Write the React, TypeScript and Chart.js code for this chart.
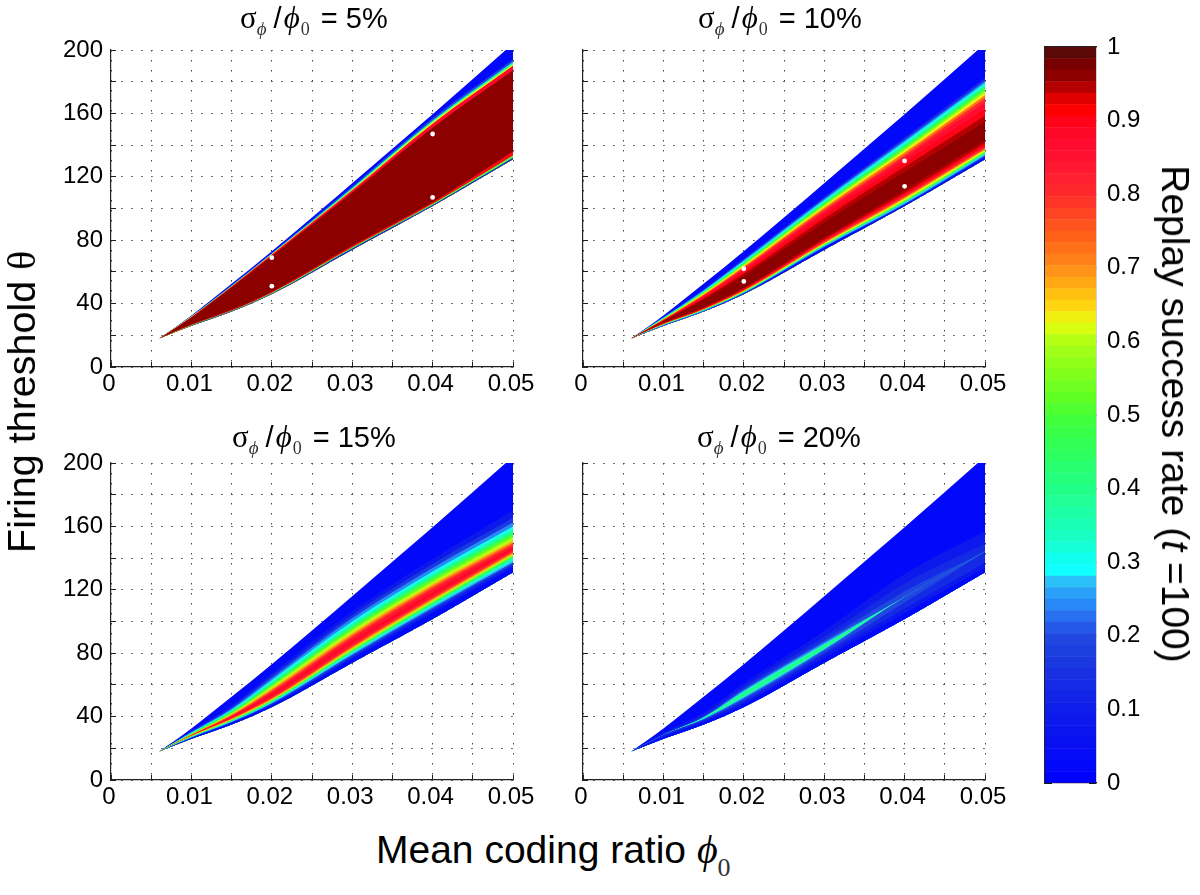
import React, { useEffect, useRef } from "react";
import { Chart, registerables } from "chart.js";

Chart.register(...registerables);

// ---- data ----
const phiNodes = [0.006, 0.01, 0.015, 0.02, 0.03, 0.04, 0.05];
const xTickLabels = ["0", "0.01", "0.02", "0.03", "0.04", "0.05"];
const yTickLabels = ["0", "40", "80", "120", "160", "200"];
const cbarTickLabels = ["0", "0.1", "0.2", "0.3", "0.4", "0.5", "0.6", "0.7", "0.8", "0.9", "1"];

// Colour bar, bottom to top (64 steps)
const palette = [
  "#0000ff", "#0208fa", "#060cf6", "#0810f2", "#0a14ee", "#0c18ec", "#0e1eea", "#1224e6",
  "#142ae4", "#1830e2", "#1a38e0", "#1c40e0", "#2048e0", "#2458e8", "#2870f0", "#2888f8",
  "#2aa0f8", "#2cc0f8", "#10ffff", "#10ffee", "#14ffd8", "#18ffc4", "#18ffb4", "#1cffa4",
  "#20ff98", "#20ff88", "#24ff7c", "#28ff70", "#2cff60", "#30ff54", "#38ff48", "#40ff3c",
  "#50ff30", "#60ff24", "#70ff20", "#80ff1c", "#90ff18", "#a0ff18", "#b4ff14", "#d8ff10",
  "#f0f010", "#ffd410", "#ffc010", "#ffa814", "#ff9418", "#ff8018", "#ff7018", "#ff6018",
  "#ff5420", "#ff4424", "#ff3428", "#ff282c", "#ff2030", "#ff1830", "#ff1030", "#ff0c30",
  "#ff0828", "#ff0418", "#ff0000", "#e00000", "#b40000", "#8c0000", "#780000", "#5a0808",
];

// Each row is one contour of theta at phiNodes, from the lower edge of the wedge to its upper edge.
const edges5 = [
  [18, 26, 35, 46, 74, 101.5, 131],
  [18, 26.2, 35.3, 46.4, 74.8, 102.2, 132],
  [18, 26.5, 35.7, 46.9, 75.5, 103, 133.5],
  [18, 26.8, 36.1, 47.5, 76.5, 104, 136],
  [18, 31.3, 50.3, 70, 110, 151, 187],
  [18, 31.6, 50.8, 71, 111.5, 153.5, 190],
  [18, 31.8, 51, 71.3, 112, 154.5, 191],
  [18, 32, 51.3, 71.6, 113, 155.5, 192.5],
  [18, 32.2, 51.7, 72, 114, 157, 194],
  [18, 32.5, 52.5, 73, 116, 159.5, 204],
];
const levels5 = [0.1, 0.5, 0.9, 0.96, 0.88, 0.62, 0.35, 0.2, 0.02];

const edges10 = [
  [18, 26, 35, 46, 74, 101.5, 131],
  [18, 26.15, 35.2, 46.3, 75.3, 102.2, 132.3],
  [18, 26.3, 35.4, 46.7, 75.9, 102.9, 133.4],
  [18, 26.5, 35.7, 47, 76.5, 103.8, 134.4],
  [18, 26.6, 35.9, 47.3, 77, 104.4, 135.2],
  [18, 26.8, 36.1, 47.6, 77.3, 105, 136],
  [18, 26.9, 36.3, 47.9, 78, 106.3, 137],
  [18, 27.1, 36.5, 48.2, 78.7, 107.3, 138],
  [18, 27.3, 36.8, 48.7, 79.6, 108.4, 139.3],
  [18, 27.6, 37.2, 49.3, 80.5, 109.8, 141],
  [18, 27.9, 37.6, 50, 81.5, 111.5, 143],
  [18, 29, 42.3, 57.5, 91, 123, 154.5],
  [18, 29.2, 43.2, 59, 93.7, 126.3, 158.5],
  [18, 29.4, 44, 60.5, 96, 129.2, 163],
  [18, 29.6, 44.8, 61.8, 98, 132, 167],
  [18, 29.8, 45.3, 62.6, 99.2, 133.6, 169.5],
  [18, 30, 45.8, 63.4, 100.5, 135.3, 171.5],
  [18, 30.2, 46.3, 64.2, 101.6, 136.8, 173.3],
  [18, 30.4, 46.8, 64.9, 102.5, 138, 174.8],
  [18, 30.6, 47.2, 65.5, 103.4, 139.3, 176.3],
  [18, 30.8, 47.6, 66.1, 104.3, 140.6, 177.7],
  [18, 31, 48, 66.8, 105.2, 141.9, 179.2],
  [18, 31.2, 48.5, 67.5, 106.2, 143.1, 180.5],
  [18, 31.6, 49, 68.4, 107.3, 144.6, 182.3],
  [18, 32.5, 52.5, 73, 116, 159.5, 204],
];
const levels10 = [
  0.03, 0.15, 0.27, 0.38, 0.5, 0.62, 0.72, 0.82, 0.9, 0.94, 0.96, 0.94,
  0.9, 0.86, 0.8, 0.72, 0.64, 0.56, 0.47, 0.38, 0.3, 0.24, 0.15, 0.03,
];

const edges15 = [
  [18, 26, 35, 46, 74, 101.5, 131],
  [18, 26.4, 35.9, 47.1, 76.5, 105.5, 134],
  [18, 26.6, 36.3, 47.8, 77.8, 107.3, 135.8],
  [18, 26.8, 36.6, 48.4, 79, 108.6, 137.2],
  [18, 27, 37, 48.9, 80, 109.8, 138.5],
  [18, 27.2, 37.3, 49.4, 80.8, 110.8, 139.7],
  [18, 27.4, 37.6, 49.9, 81.5, 111.7, 140.8],
  [18, 27.6, 37.9, 50.3, 82.1, 112.4, 141.6],
  [18, 27.8, 38.2, 50.7, 82.8, 113.2, 142.4],
  [18, 27.9, 38.5, 51.2, 83.6, 114, 143.2],
  [18, 28, 38.8, 51.8, 84.6, 115, 144.1],
  [18, 28.1, 39.3, 53, 86.2, 116.6, 145.3],
  [18, 28.2, 39.9, 54.5, 88, 118.5, 146.5],
  [18, 28.3, 40.5, 55.7, 90, 120.8, 148.3],
  [18, 28.5, 41, 56.8, 91.5, 122.2, 149.7],
  [18, 28.7, 41.5, 57.8, 92.8, 123.5, 151],
  [18, 28.9, 42, 59, 94.5, 125.3, 153],
  [18, 29.1, 42.6, 59.9, 95.8, 126.8, 154.7],
  [18, 29.3, 43.1, 60.8, 97, 128.2, 156.3],
  [18, 29.6, 43.8, 61.9, 98.4, 129.8, 158],
  [18, 29.9, 44.4, 63, 100, 131.6, 160],
  [18, 30.2, 45, 64.2, 102, 133.8, 162.5],
  [18, 30.6, 45.9, 65.7, 104, 136.3, 165.5],
  [18, 31, 47, 67.5, 106.5, 139.5, 170],
  [18, 32.5, 52.5, 73, 116, 159.5, 204],
];
const levels15 = [
  0.03, 0.1, 0.18, 0.27, 0.33, 0.42, 0.52, 0.6, 0.68, 0.76, 0.84, 0.88,
  0.84, 0.76, 0.68, 0.6, 0.52, 0.44, 0.36, 0.3, 0.24, 0.16, 0.08, 0.03,
];

const edges20 = [
  [18, 26, 35, 46, 74, 101.5, 131],
  [18, 27, 36.5, 48, 77, 105, 134],
  [18, 27.5, 37.3, 49, 79, 108, 137],
  [18, 28.5, 38, 50.5, 80.5, 112, 144],
  [18, 28.5, 38.4, 51.5, 82, 115.5, 144],
  [18, 28.5, 38.7, 52.3, 82.6, 115.5, 144],
  [18, 28.5, 38.9, 53, 83, 115.5, 144],
  [18, 28.5, 39.2, 55, 85, 115.5, 144],
  [18, 28.5, 39.4, 55.8, 85.6, 115.5, 144],
  [18, 28.5, 39.6, 56.6, 86.8, 115.5, 144],
  [18, 28.5, 40, 57.6, 88, 119, 144],
  [18, 29, 41, 59, 90.5, 124, 149],
  [18, 29.8, 42.5, 61, 94, 130, 157],
  [18, 32.5, 52.5, 73, 116, 159.5, 204],
];
const levels20 = [0.03, 0.08, 0.13, 0.19, 0.26, 0.33, 0.4, 0.33, 0.26, 0.19, 0.13, 0.08, 0.03];

// White marker dots: [phi, theta]
const dots5 = [[0.02, 69], [0.02, 51], [0.04, 147], [0.04, 107]];
const dots10 = [[0.02, 62], [0.02, 54], [0.04, 130], [0.04, 114]];

const SANS = '"Liberation Sans", Arial, sans-serif';
const SERIF = '"Liberation Serif", "DejaVu Serif", serif';

const colorAt = (v: number) => palette[Math.min(63, Math.floor(v * 64))];

function Panel({ left, top, edges, levels, dots, showY }: any) {
  const ref = useRef<HTMLCanvasElement>(null);
  useEffect(() => {
    const datasets: any[] = edges.map((row: number[], i: number) => ({
      type: "line",
      data: row.map((y, k) => ({ x: phiNodes[k], y })),
      borderWidth: 0,
      pointRadius: 0,
      cubicInterpolationMode: "monotone",
      fill: i === 0 ? false : 0,
      backgroundColor: i === 0 ? "transparent" : colorAt(levels[i - 1]),
    }));
    if (dots) {
      datasets.push({
        type: "scatter",
        order: -1,
        data: dots.map((d: number[]) => ({ x: d[0], y: d[1] })),
        pointRadius: 2.4,
        pointBorderWidth: 0,
        backgroundColor: "#ffffff",
        pointBackgroundColor: "#ffffff",
      });
    }
    const chart = new Chart(ref.current!, {
      type: "line",
      data: { datasets },
      options: {
        responsive: false,
        animation: false,
        events: [],
        layout: { padding: { left: 0, right: 40, top: 20, bottom: 0 } },
        plugins: { legend: { display: false }, tooltip: { enabled: false }, title: { display: false } },
        scales: {
          x: {
            type: "linear",
            min: 0,
            max: 0.05,
            afterFit: (s: any) => { s.height = 45; s.paddingLeft = 0; s.paddingRight = 0; },
            ticks: {
              stepSize: 0.005,
              autoSkip: false,
              maxRotation: 0,
              minRotation: 0,
              padding: 8,
              labelOffset: -2,
              color: "#000",
              font: { family: SANS, size: 24 },
              callback: (_: any, i: number) => (i % 2 === 0 ? xTickLabels[i / 2] : ""),
            },
            grid: { color: "#444", lineWidth: 1, tickLength: -5, tickColor: "#222", tickBorderDash: [] },
            border: { color: "#222", width: 1.2, dash: [1.5, 8.5] },
          },
          y: {
            type: "linear",
            min: 0,
            max: 200,
            afterFit: (s: any) => { s.width = 100; s.paddingTop = 0; s.paddingBottom = 0; },
            ticks: {
              stepSize: 20,
              autoSkip: false,
              padding: 13,
              color: "#000",
              font: { family: SANS, size: 24 },
              callback: (_: any, i: number) => (showY && i % 2 === 0 ? yTickLabels[i / 2] : ""),
            },
            grid: { color: "#444", lineWidth: 1, tickLength: -5, tickColor: "#222", tickBorderDash: [] },
            border: { color: "#222", width: 1.2, dash: [1.5, 8.5] },
          },
        },
      } as any,
    });
    return () => chart.destroy();
  }, []);
  return (
    <canvas
      ref={ref}
      width={542}
      height={382}
      style={{ position: "absolute", left: left - 100, top: top - 20, width: 542, height: 382 }}
    />
  );
}

function ColorBar() {
  const ref = useRef<HTMLCanvasElement>(null);
  useEffect(() => {
    const chart = new Chart(ref.current!, {
      type: "bar",
      data: {
        labels: ["level"],
        datasets: palette.map((c) => ({
          data: [1 / palette.length],
          xAxisID: "x",
          yAxisID: "y",
          backgroundColor: c,
          borderWidth: 0,
          barPercentage: 1,
          categoryPercentage: 1,
        })),
      },
      options: {
        responsive: false,
        animation: false,
        events: [],
        layout: { padding: { left: 15, right: 0, top: 12, bottom: 12 } },
        plugins: { legend: { display: false }, tooltip: { enabled: false } },
        scales: {
          x: {
            stacked: true,
            afterFit: (s: any) => { s.height = 0; },
            ticks: { display: false },
            grid: { display: false },
            border: { color: "#222", width: 1.2 },
          },
          xTop: {
            type: "linear",
            position: "top",
            min: 0,
            max: 1,
            afterFit: (s: any) => { s.height = 0; },
            ticks: { display: false },
            grid: { display: false },
            border: { color: "#222", width: 1.2 },
          },
          yLeft: {
            type: "linear",
            position: "left",
            min: 0,
            max: 1,
            afterFit: (s: any) => { s.width = 0; s.paddingTop = 0; s.paddingBottom = 0; },
            ticks: { stepSize: 0.1, display: false },
            grid: { drawOnChartArea: false, tickLength: -7, tickColor: "#111" },
            border: { color: "#222", width: 1.2 },
          },
          y: {
            type: "linear",
            stacked: true,
            position: "right",
            min: 0,
            max: 1,
            afterFit: (s: any) => { s.width = 64; s.paddingTop = 0; s.paddingBottom = 0; },
            ticks: {
              stepSize: 0.1,
              autoSkip: false,
              padding: 18,
              color: "#000",
              font: { family: SANS, size: 24 },
              callback: (_: any, i: number) => cbarTickLabels[i],
            },
            grid: { drawOnChartArea: false, tickLength: -7, tickColor: "#111" },
            border: { color: "#222", width: 1.2 },
          },
        },
      } as any,
    });
    return () => chart.destroy();
  }, []);
  return (
    <canvas
      ref={ref}
      width={130}
      height={760}
      style={{ position: "absolute", left: 1030, top: 35, width: 130, height: 760 }}
    />
  );
}

function Title({ left, top, pct }: any) {
  return (
    <div
      style={{
        position: "absolute",
        left,
        top,
        whiteSpace: "nowrap",
        font: `29px ${SANS}`,
        lineHeight: "30px",
        color: "#000",
      }}
    >
      <span style={{ fontFamily: SERIF, fontSize: 31 }}>σ</span>
      <span style={{ fontFamily: SERIF, fontStyle: "italic", fontSize: 19, position: "relative", top: 7, color: "#333" }}>ϕ</span>
      <span style={{ marginLeft: 7, marginRight: 2 }}>/</span>
      <span style={{ fontFamily: SERIF, fontStyle: "italic", fontSize: 31 }}>ϕ</span>
      <span style={{ fontFamily: SERIF, fontSize: 18, position: "relative", top: 7, marginLeft: 1, marginRight: 3, color: "#333" }}>0</span>
      <span> = {pct}%</span>
    </div>
  );
}

export default function App() {
  return (
    <div style={{ position: "absolute", left: 0, top: 0, width: 1200, height: 895, overflow: "hidden", background: "#fff" }}>
      <Panel left={111} top={50} edges={edges5} levels={levels5} dots={dots5} showY={true} />
      <Panel left={583} top={50} edges={edges10} levels={levels10} dots={dots10} showY={false} />
      <Panel left={111} top={463} edges={edges15} levels={levels15} showY={true} />
      <Panel left={583} top={463} edges={edges20} levels={levels20} showY={false} />
      <ColorBar />
      <Title left={240} top={3} pct={5} />
      <Title left={698} top={3} pct={10} />
      <Title left={232} top={422} pct={15} />
      <Title left={697} top={422} pct={20} />
      <div
        style={{
          position: "absolute",
          left: 22,
          top: 402,
          transform: "translate(-50%,-50%) rotate(-90deg)",
          whiteSpace: "nowrap",
          font: `39.5px ${SANS}`,
        }}
      >
        Firing threshold <span style={{ fontFamily: SERIF }}>θ</span>
      </div>
      <div
        style={{
          position: "absolute",
          left: 376,
          top: 828,
          whiteSpace: "nowrap",
          font: `39px ${SANS}`,
          lineHeight: "44px",
        }}
      >
        Mean coding ratio{" "}
        <span style={{ fontFamily: SERIF, fontStyle: "italic", fontSize: 40 }}>ϕ</span>
        <span style={{ fontFamily: SERIF, fontSize: 26, position: "relative", top: 13, color: "#333" }}>0</span>
      </div>
      <div
        style={{
          position: "absolute",
          left: 1175,
          top: 414,
          transform: "translate(-50%,-50%) rotate(90deg)",
          whiteSpace: "nowrap",
          font: `39px ${SANS}`,
        }}
      >
        Replay success rate (<span style={{ fontStyle: "italic" }}>t</span> =100)
      </div>
    </div>
  );
}
